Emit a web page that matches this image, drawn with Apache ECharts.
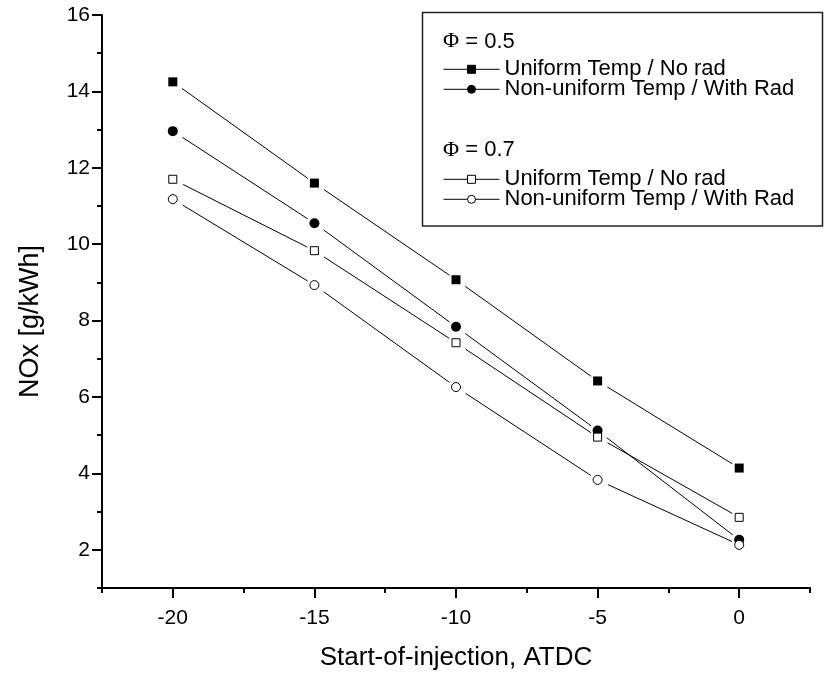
<!DOCTYPE html>
<html>
<head>
<meta charset="utf-8">
<script src="https://cdn.jsdelivr.net/npm/echarts@6/dist/echarts.min.js"></script>
<style>
html,body{margin:0;padding:0;background:#fff;}
#chart{width:825px;height:676px;}
</style>
</head>
<body>
<div id="chart"></div>
<script>
// ---- data ----
const xValues = [-20, -15, -10, -5, 0];
const uniformNoRad05 = [14.25, 11.60, 9.07, 6.42, 4.14];
const nonUniformRad05 = [12.96, 10.55, 7.84, 5.12, 2.26];
const uniformNoRad07 = [11.70, 9.83, 7.42, 4.95, 2.85];
const nonUniformRad07 = [11.18, 8.93, 6.26, 3.83, 2.13];

const xMajorTicks = [-20, -15, -10, -5, 0];
const xMinorTicks = [-22.5, -17.5, -12.5, -7.5, -2.5, 2.5];
const yMajorTicks = [2, 4, 6, 8, 10, 12, 14, 16];
const yMinorTicks = [1, 3, 5, 7, 9, 11, 13, 15];

const seriesNames = ['u05', 'n05', 'u07', 'n07'];
const legendLabels = {
  u05: 'Uniform Temp / No rad',
  n05: 'Non-uniform Temp / With Rad',
  u07: 'Uniform Temp / No rad',
  n07: 'Non-uniform Temp / With Rad'
};
const groupHeaders = ['0.5', '0.7'];

const FONT = "'Liberation Sans', Arial, sans-serif";

const seriesDefs = [
  { name: 'u05', values: uniformNoRad05, symbol: 'rect', size: 9, filled: true },
  { name: 'n05', values: nonUniformRad05, symbol: 'circle', size: 10, filled: true },
  { name: 'u07', values: uniformNoRad07, symbol: 'rect', size: 8, filled: false },
  { name: 'n07', values: nonUniformRad07, symbol: 'circle', size: 9, filled: false }
];

const START_GAP = 11.5, END_GAP = 8;

function segmentsOf(values) {
  const segs = [];
  for (let i = 1; i < xValues.length; i++) {
    segs.push([xValues[i - 1], values[i - 1], xValues[i], values[i]]);
  }
  return segs;
}

function renderSegment(params, api) {
  const p0 = api.coord([api.value(0), api.value(1)]);
  const p1 = api.coord([api.value(2), api.value(3)]);
  const dx = p1[0] - p0[0], dy = p1[1] - p0[1];
  const len = Math.sqrt(dx * dx + dy * dy);
  const ux = dx / len, uy = dy / len;
  return {
    type: 'line',
    shape: {
      x1: p0[0] + ux * START_GAP, y1: p0[1] + uy * START_GAP,
      x2: p1[0] - ux * END_GAP, y2: p1[1] - uy * END_GAP
    },
    style: { stroke: '#000', lineWidth: 1 }
  };
}

const series = [];
seriesDefs.forEach(function (d) {
  series.push({
    type: 'custom',
    name: d.name + '_line',
    renderItem: renderSegment,
    data: segmentsOf(d.values),
    encode: { x: [0, 2], y: [1, 3] },
    z: 2,
    silent: true,
    animation: false
  });
  series.push({
    type: 'line',
    name: d.name,
    data: xValues.map(function (x, i) { return [x, d.values[i]]; }),
    symbol: d.symbol,
    symbolSize: d.size,
    showSymbol: true,
    lineStyle: { width: 0, opacity: 0, color: 'rgba(0,0,0,0)' },
    itemStyle: d.filled
      ? { color: '#000', borderColor: '#000', borderWidth: 0 }
      : { color: '#fff', borderColor: '#000', borderWidth: 1 },
    emphasis: { disabled: true },
    z: 3,
    animation: false
  });
});

const legendCenters = [68.3, 88.3, 178.3, 198.3];
const legends = seriesNames.map(function (n, i) {
  return {
    data: [n],
    left: 443,
    top: legendCenters[i] - 10,
    orient: 'vertical',
    padding: 0,
    itemWidth: 56,
    itemHeight: 10,
    itemGap: 0,
    selectedMode: false,
    formatter: function (name) { return legendLabels[name]; },
    textStyle: { fontSize: 22, fontFamily: FONT, color: '#000', lineHeight: 20 },
    lineStyle: { color: '#000', width: 1, opacity: 1 },
    itemStyle: { borderWidth: 1 },
    z: 5
  };
});

const headerCenters = [41.7, 150];

const option = {
  backgroundColor: '#fff',
  animation: false,
  grid: { left: 102, right: 15, top: 15, bottom: 88, containLabel: false, outerBoundsMode: 'none' },
  legend: legends,
  graphic: [
    {
      type: 'rect', z: 1,
      shape: { x: 422.5, y: 12.5, width: 400, height: 213.5 },
      style: { fill: '#fff', stroke: '#222', lineWidth: 1.5 }
    }
  ].concat(groupHeaders.map(function (h, i) {
    return {
      type: 'text', z: 5,
      x: 443, y: headerCenters[i],
      style: {
        text: '{p|Φ} = ' + h,
        rich: { p: { fontFamily: "'Liberation Serif', serif", fontSize: 22, fill: '#000' } },
        fontFamily: FONT, fontSize: 22, fill: '#000',
        verticalAlign: 'middle', align: 'left'
      }
    };
  })),
  xAxis: [
    {
      type: 'value', min: -22.5, max: 2.5,
      name: 'Start-of-injection, ATDC',
      nameLocation: 'middle', nameGap: 57,
      nameTextStyle: { fontSize: 26, fontFamily: FONT, color: '#000' },
      axisLine: { show: true, onZero: false, lineStyle: { color: '#000', width: 2 } },
      axisTick: { show: true, inside: false, length: 10, customValues: xMajorTicks, lineStyle: { color: '#000', width: 2 } },
      axisLabel: { show: true, customValues: xMajorTicks, margin: 20, fontSize: 21, fontFamily: FONT, color: '#000' },
      splitLine: { show: false }
    },
    {
      type: 'value', min: -22.5, max: 2.5, position: 'bottom', gridIndex: 0,
      axisLine: { show: false, onZero: false },
      axisTick: { show: true, inside: false, length: 5, customValues: xMinorTicks, lineStyle: { color: '#000', width: 2 } },
      axisLabel: { show: false },
      splitLine: { show: false }
    }
  ],
  yAxis: [
    {
      type: 'value', min: 1, max: 16,
      name: 'NOx [g/kWh]',
      nameLocation: 'middle', nameGap: 58, nameRotate: 90,
      nameTextStyle: { fontSize: 27, fontFamily: FONT, color: '#000', padding: [0, 40, 0, 0] },
      axisLine: { show: true, onZero: false, lineStyle: { color: '#000', width: 2 } },
      axisTick: { show: true, inside: false, length: 10, customValues: yMajorTicks, lineStyle: { color: '#000', width: 2 } },
      axisLabel: { show: true, customValues: yMajorTicks, margin: 12, fontSize: 21, fontFamily: FONT, color: '#000' },
      splitLine: { show: false }
    },
    {
      type: 'value', min: 1, max: 16, position: 'left', gridIndex: 0,
      axisLine: { show: false, onZero: false },
      axisTick: { show: true, inside: false, length: 5, customValues: yMinorTicks, lineStyle: { color: '#000', width: 2 } },
      axisLabel: { show: false },
      splitLine: { show: false }
    }
  ],
  series: series
};

const chart = echarts.init(document.getElementById('chart'), null, { renderer: 'canvas' });
chart.setOption(option);
</script>
</body>
</html>
